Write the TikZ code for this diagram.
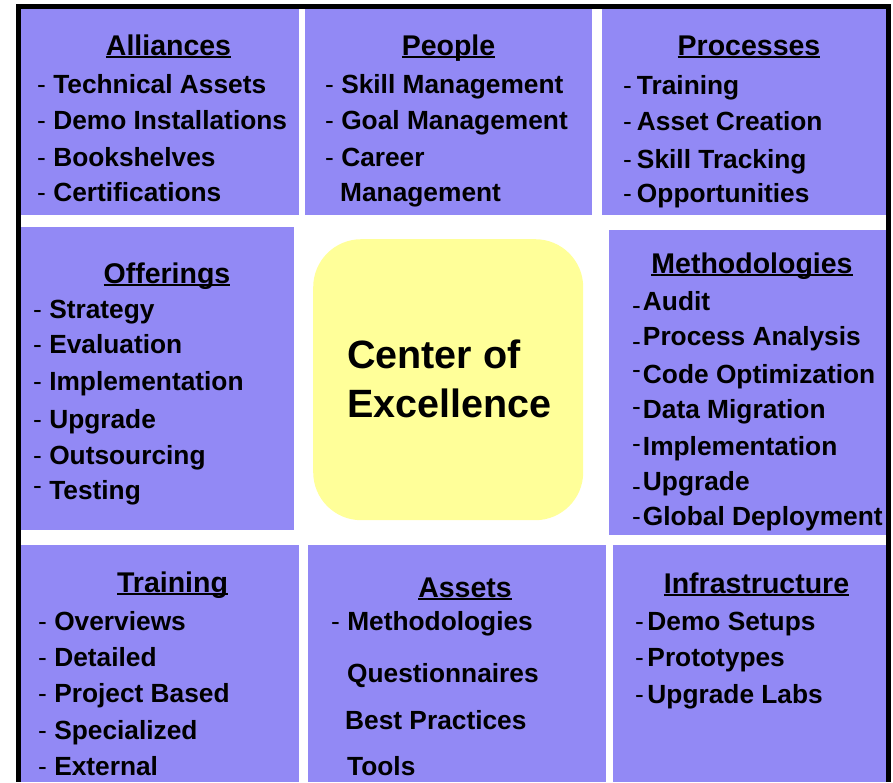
\documentclass[tikz,border=0pt]{standalone}
\usepackage{fontspec}
\setmainfont{Liberation Sans}
\definecolor{boxblue}{RGB}{146,137,245}
\definecolor{coeyellow}{RGB}{255,255,153}
\newcommand\myul[1]{\setbox0\hbox{#1}\rlap{\rule[-3pt]{\wd0}{2pt}}\box0}
\newcommand\dsh{{\mdseries -}}
\newcommand\lodash[1]{\raisebox{-#1}{\dsh}}
\newcommand\hidash[1]{\raisebox{#1}{\dsh}}
\tikzset{
  box/.style={fill=boxblue, draw=none, inner sep=0pt, anchor=north west},
  coebox/.style={fill=coeyellow, draw=none, inner sep=0pt, anchor=north west, rounded corners=48pt},
  ttl/.style={anchor=base, inner sep=0pt, font=\fontsize{28.5}{32}\selectfont\bfseries},
  itm/.style={anchor=base west, inner sep=0pt, font=\fontsize{26.3}{30}\selectfont\bfseries},
  coetxt/.style={anchor=base west, inner sep=0pt, font=\fontsize{39.5}{44}\selectfont\bfseries},
  framebar/.style={fill=black, draw=none}
}
\begin{document}
\begin{tikzpicture}[x=1pt,y=-1pt]
\useasboundingbox (0,0) rectangle (893,782);
\fill[white] (0,0) rectangle (893,782);
% boxes
\node[box, minimum width=278pt, minimum height=206pt] (alliances) at (21,9) {};
\node[box, minimum width=287pt, minimum height=206pt] (people) at (305,9) {};
\node[box, minimum width=284pt, minimum height=206pt] (processes) at (602,9) {};
\node[box, minimum width=273pt, minimum height=303pt] (offerings) at (21,227) {};
\node[box, minimum width=277pt, minimum height=305pt] (methods) at (609,230) {};
\node[box, minimum width=278pt, minimum height=237pt] (training) at (21,545) {};
\node[box, minimum width=298pt, minimum height=237pt] (assets) at (308,545) {};
\node[box, minimum width=273pt, minimum height=237pt] (infra) at (613,545) {};
\node[coebox, minimum width=270pt, minimum height=281pt] (coe) at (313,239) {};
% frame
\fill[framebar] (16,4) rectangle (21,782);
\fill[framebar] (16,4) rectangle (891,9);
\fill[framebar] (886,4) rectangle (891,782);
% center text
\node[coetxt] (coe1) at (347,368) {Center of};
\node[coetxt] (coe2) at (347,417) {Excellence};
% titles
\node[ttl] (t1) at (168.5,55) {\myul{Alliances}};
\node[ttl] (t2) at (448.5,55) {\myul{People}};
\node[ttl] (t3) at (749,55) {\myul{Processes}};
\node[ttl] (t4) at (167,283) {\myul{Offerings}};
\node[ttl] (t5) at (752,273) {\myul{Methodologies}};
\node[ttl] (t6) at (172.5,592) {\myul{Training}};
\node[ttl] (t7) at (465,597) {\myul{Assets}};
\node[ttl] (t8) at (756.5,593) {\myul{Infrastructure}};
% Alliances
\node[itm] (a1) at (37,93) {\dsh{} Technical Assets};
\node[itm] (a2) at (37,129) {\dsh{} Demo Installations};
\node[itm] (a3) at (37,166) {\dsh{} Bookshelves};
\node[itm] (a4) at (37,201) {\dsh{} Certifications};
% People
\node[itm] (p1) at (325,93) {\dsh{} Skill Management};
\node[itm] (p2) at (325,129) {\dsh{} Goal Management};
\node[itm] (p3) at (325,166) {\dsh{} Career};
\node[itm] (p4) at (340,201) {Management};
% Processes
\node[itm] (r1) at (623,94) {\dsh\hspace{5pt}Training};
\node[itm] (r2) at (623,130) {\dsh\hspace{5pt}Asset Creation};
\node[itm] (r3) at (623,168) {\dsh\hspace{5pt}Skill Tracking};
\node[itm] (r4) at (623,202) {\dsh\hspace{5pt}Opportunities};
% Offerings
\node[itm] (o1) at (33,318) {\dsh{} Strategy};
\node[itm] (o2) at (33,353) {\dsh{} Evaluation};
\node[itm] (o3) at (33,390) {\dsh{} Implementation};
\node[itm] (o4) at (33,428) {\dsh{} Upgrade};
\node[itm] (o5) at (33,464) {\dsh{} Outsourcing};
\node[itm] (o6) at (33,499) {\hidash{5pt} Testing};
% Methodologies
\node[itm] (m1) at (632,310) {\lodash{4pt}\hspace{2pt}Audit};
\node[itm] (m2) at (632,345) {\lodash{5pt}\hspace{2pt}Process Analysis};
\node[itm] (m3) at (632,383) {\hidash{5pt}\hspace{2pt}Code Optimization};
\node[itm] (m4) at (632,418) {\hidash{3pt}\hspace{2pt}Data Migration};
\node[itm] (m5) at (632,455) {\hidash{3pt}\hspace{2pt}Implementation};
\node[itm] (m6) at (632,490) {\lodash{5pt}\hspace{2pt}Upgrade};
\node[itm] (m7) at (632,525) {\dsh\hspace{2pt}Global Deployment};
% Training
\node[itm] (tr1) at (38,630) {\dsh{} Overviews};
\node[itm] (tr2) at (38,666) {\dsh{} Detailed};
\node[itm] (tr3) at (38,702) {\dsh{} Project Based};
\node[itm] (tr4) at (38,739) {\dsh{} Specialized};
\node[itm] (tr5) at (38,775) {\dsh{} External};
% Assets
\node[itm] (as1) at (331,630) {\dsh{} Methodologies};
\node[itm] (as2) at (347,682) {Questionnaires};
\node[itm] (as3) at (345,729) {Best Practices};
\node[itm] (as4) at (347,775) {Tools};
% Infrastructure
\node[itm] (i1) at (635,630) {\dsh\hspace{3.5pt}Demo Setups};
\node[itm] (i2) at (635,666) {\dsh\hspace{3.5pt}Prototypes};
\node[itm] (i3) at (635,703) {\dsh\hspace{3.5pt}Upgrade Labs};
\end{tikzpicture}
\end{document}
